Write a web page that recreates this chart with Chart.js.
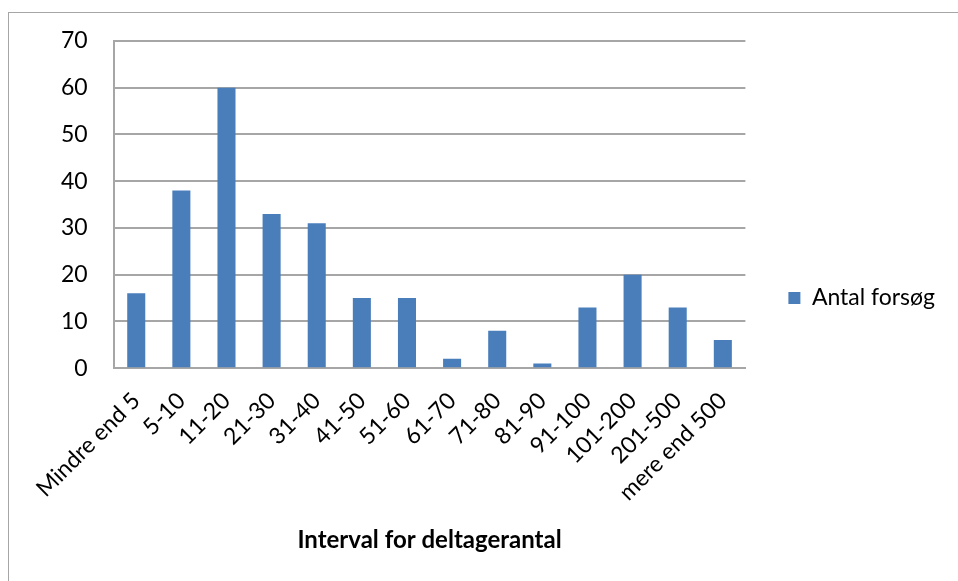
<!DOCTYPE html>
<html>
<head>
<meta charset="utf-8">
<script src="https://cdn.jsdelivr.net/npm/chart.js@4.4.1/dist/chart.umd.min.js"></script>
<style>
  html, body { margin: 0; padding: 0; background: #fff; overflow: hidden; }
  #frame {
    position: absolute; left: 8px; top: 12px;
    width: 949px; height: 568px;
    border-left: 1px solid #a6a6a6; border-top: 1px solid #a6a6a6;
  }
  #chart { display: block; }
</style>
</head>
<body>
<div id="frame"><canvas id="chart" width="949" height="568"></canvas></div>
<script>
// Number of experiments per participant-count interval
const categories = ['Mindre end 5', '5-10', '11-20', '21-30', '31-40', '41-50', '51-60',
                    '61-70', '71-80', '81-90', '91-100', '101-200', '201-500', 'mere end 500'];
const antalForsog = [16, 38, 60, 33, 31, 15, 15, 2, 8, 1, 13, 20, 13, 6];
const yTicks = [0, 10, 20, 30, 40, 50, 60, 70];
const seriesName = 'Antal forsøg';
const xTitle = 'Interval for deltagerantal';

const FONT = "Lato, 'Open Sans', sans-serif";
const FS = 23;

new Chart(document.getElementById('chart'), {
  type: 'bar',
  data: {
    labels: categories,
    datasets: [{
      label: seriesName,
      data: antalForsog,
      backgroundColor: '#4a7ebb',
      borderWidth: 0,
      categoryPercentage: 0.8,
      barPercentage: 0.5
    }]
  },
  options: {
    responsive: false,
    animation: false,
    layout: { padding: { left: 52, top: 28, right: 13, bottom: 26 } },
    plugins: {
      tooltip: { enabled: false },
      legend: {
        position: 'right',
        maxWidth: 212,
        labels: {
          boxWidth: 12, boxHeight: 12, padding: 43,
          color: '#000', font: { family: FONT, size: FS }
        }
      }
    },
    scales: {
      x: {
        grid: { display: false, drawTicks: false },
        border: { display: true, color: '#a6a6a6', width: 2 },
        ticks: {
          color: '#000', font: { family: FONT, size: FS },
          minRotation: 45, maxRotation: 45, padding: 19, autoSkip: false
        },
        title: {
          display: true, text: xTitle, color: '#000',
          font: { family: FONT, size: 24, weight: 'bold' },
          padding: { top: 1, bottom: 0 }
        }
      },
      y: {
        min: 0, max: 70,
        afterBuildTicks: (axis) => { axis.ticks = yTicks.map(v => ({ value: v })); },
        // invisible tick marks keep the labels clear of the axis line
        grid: { color: '#a6a6a6', lineWidth: 2, drawTicks: true, tickLength: 26, tickColor: 'rgba(0,0,0,0)' },
        border: { display: true, color: '#a6a6a6', width: 2 },
        ticks: { color: '#000', font: { family: FONT, size: FS }, padding: 0 }
      }
    }
  }
});
</script>
</body>
</html>
